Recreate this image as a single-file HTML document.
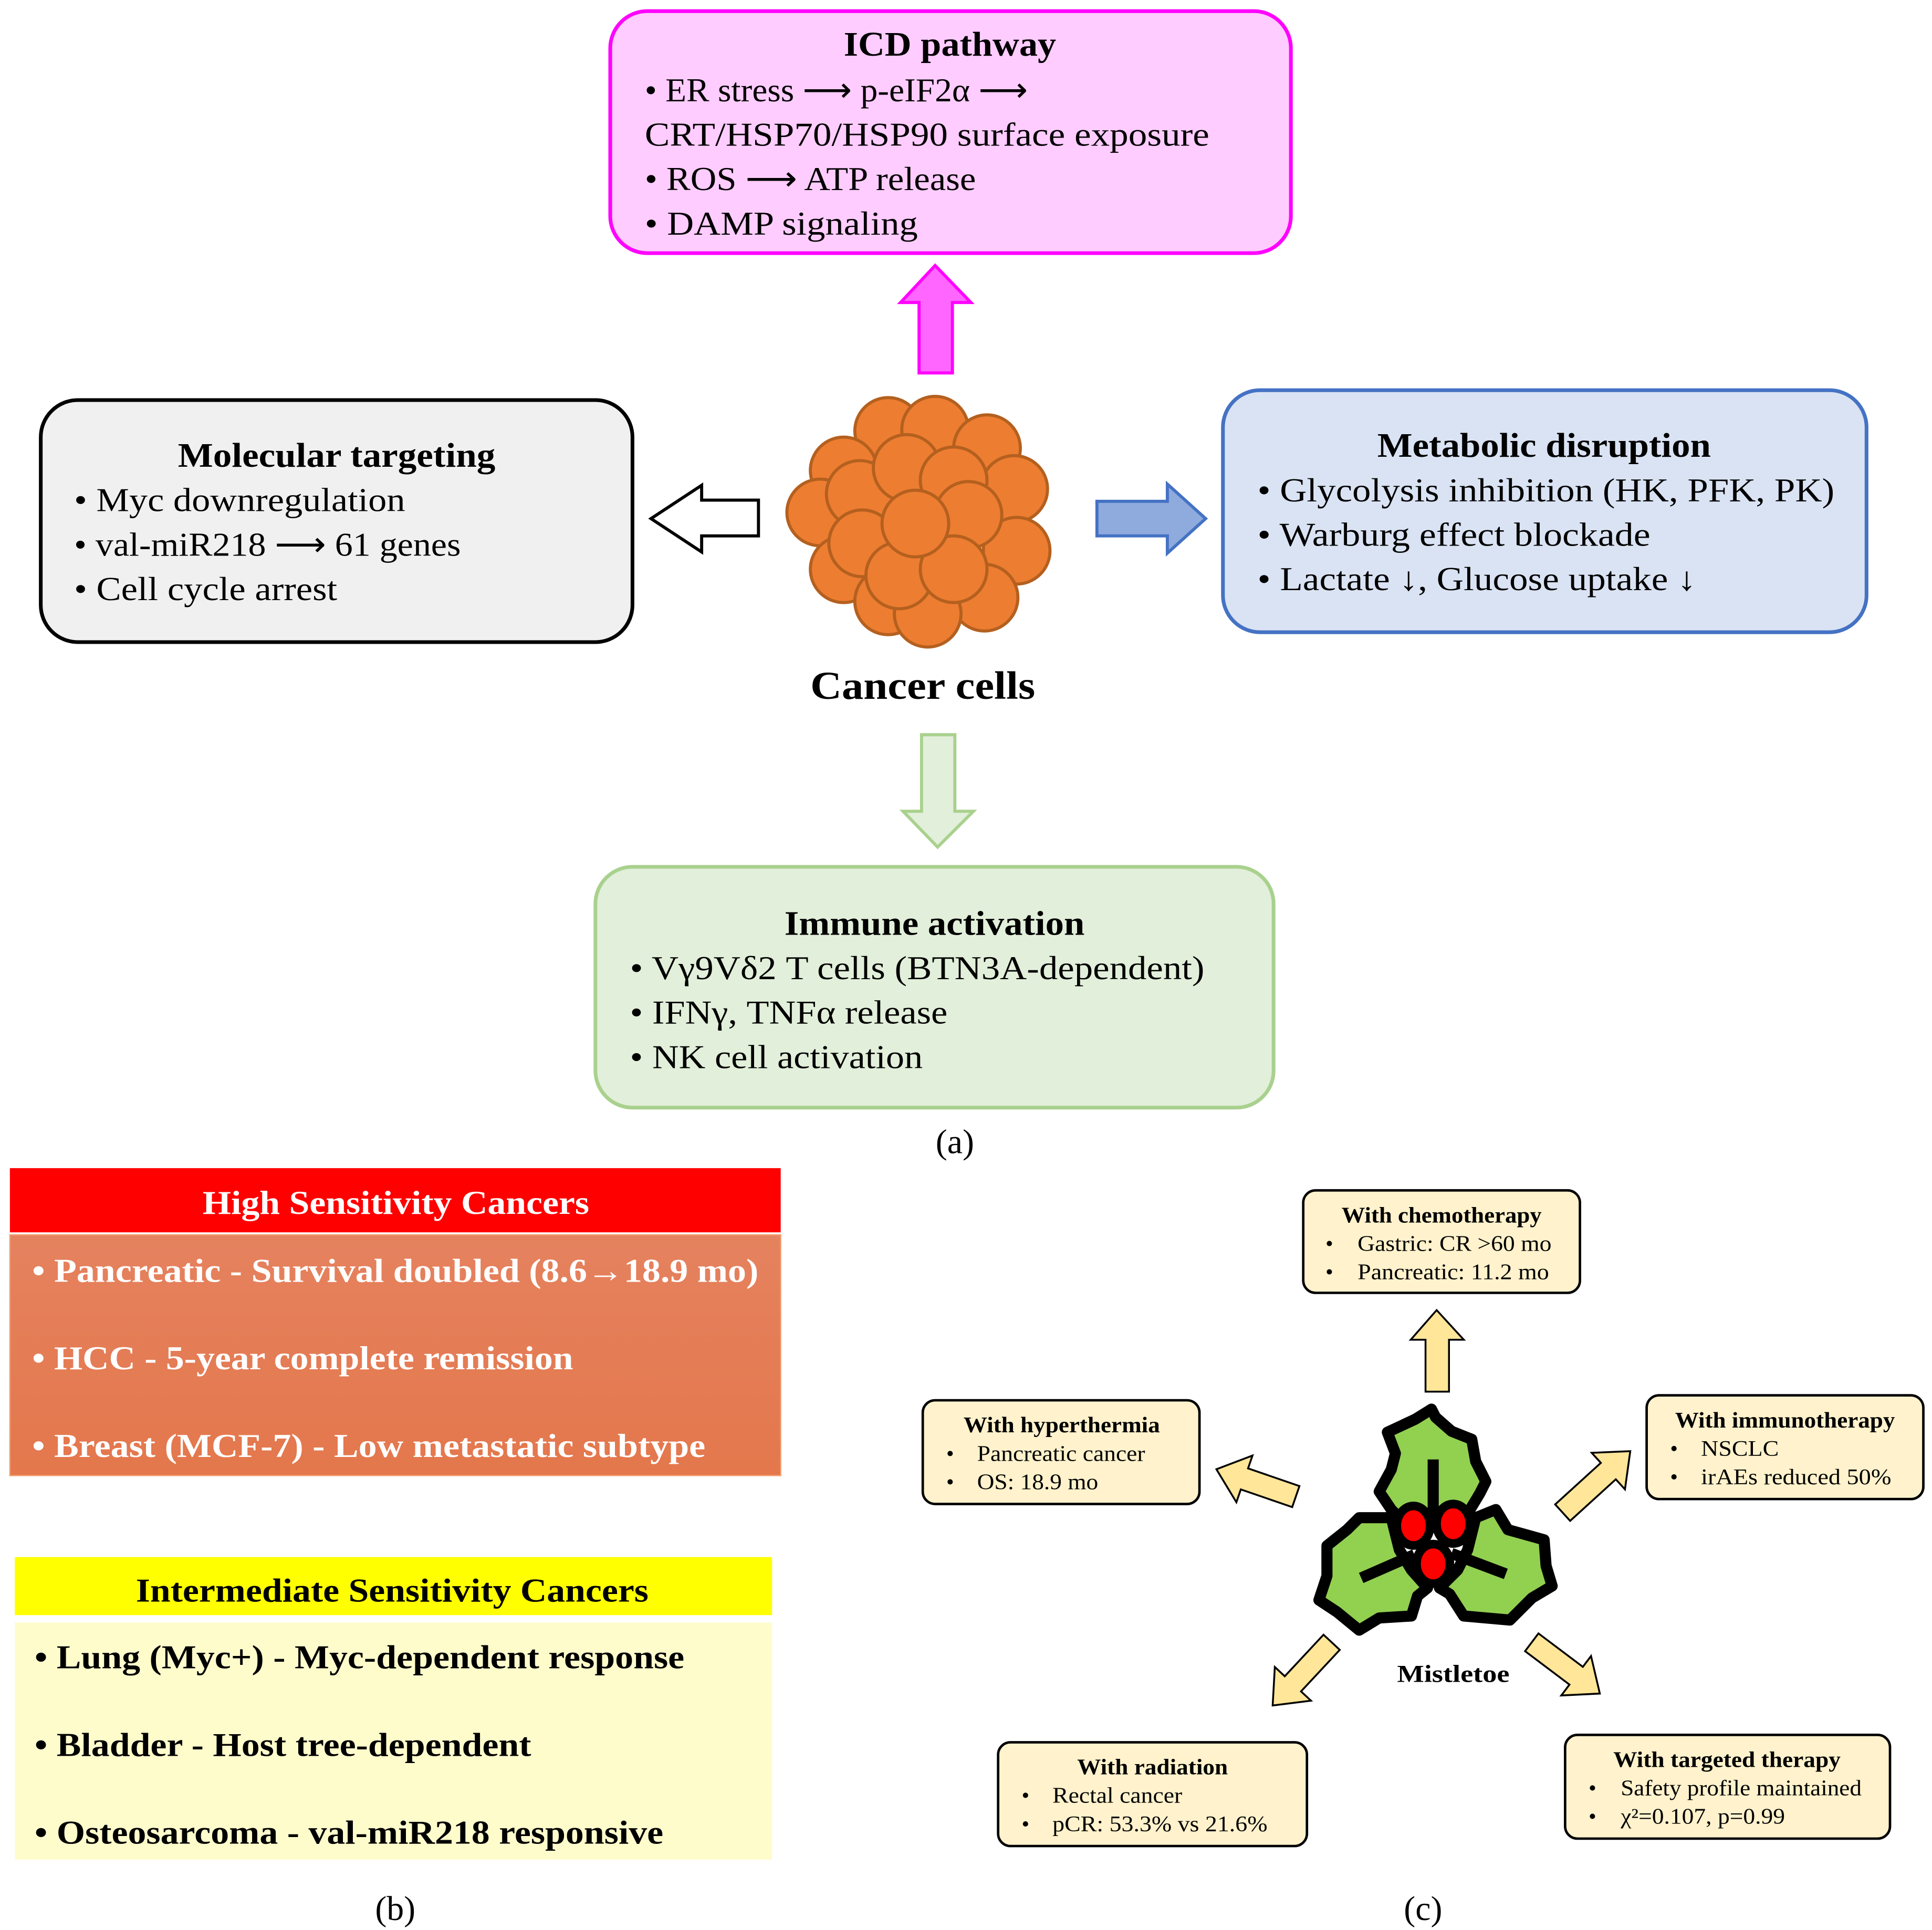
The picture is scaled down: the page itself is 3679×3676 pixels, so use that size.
<!DOCTYPE html>
<html><head><meta charset="utf-8"><style>
html,body{margin:0;padding:0;background:#fff;}
svg{display:block;}
text{font-family:"Liberation Serif",serif;}
</style></head><body>
<svg width="3679" height="3676" viewBox="0 0 1564 1563" preserveAspectRatio="none" xmlns="http://www.w3.org/2000/svg">
<defs>
<linearGradient id="og" x1="0" y1="0" x2="0" y2="1"><stop offset="0" stop-color="#e5825f"/><stop offset="1" stop-color="#e4774c"/></linearGradient>
</defs>
<g lengthAdjust="spacingAndGlyphs">
<!-- ICD box -->
<rect x="494" y="9" width="551" height="196" rx="30" fill="#ffccff" stroke="#ff00ff" stroke-width="3"/>
<text x="683" y="45" font-size="28" font-weight="bold" textLength="172" lengthAdjust="spacingAndGlyphs">ICD pathway</text>
<g font-size="27">
<text x="522" y="82" textLength="310" lengthAdjust="spacingAndGlyphs">• ER stress ⟶ p-eIF2α ⟶</text>
<text x="522" y="118" textLength="457" lengthAdjust="spacingAndGlyphs">CRT/HSP70/HSP90 surface exposure</text>
<text x="522" y="154" textLength="268" lengthAdjust="spacingAndGlyphs">• ROS ⟶ ATP release</text>
<text x="522" y="190" textLength="221" lengthAdjust="spacingAndGlyphs">• DAMP signaling</text>
</g>
<polygon points="744,302 771,302 771,245 786,245 757,215 729,245 744,245" fill="#ff66ff" stroke="#ff00ff" stroke-width="2.5"/>
<!-- Molecular -->
<rect x="33" y="324" width="479" height="196" rx="30" fill="#f0f0f0" stroke="#000" stroke-width="3"/>
<text x="144" y="378" font-size="28" font-weight="bold" textLength="257" lengthAdjust="spacingAndGlyphs">Molecular targeting</text>
<g font-size="27">
<text x="60" y="414" textLength="268" lengthAdjust="spacingAndGlyphs">• Myc downregulation</text>
<text x="60" y="450" textLength="313" lengthAdjust="spacingAndGlyphs">• val-miR218 ⟶ 61 genes</text>
<text x="60" y="486" textLength="213" lengthAdjust="spacingAndGlyphs">• Cell cycle arrest</text>
</g>
<polygon points="614,405 568,405 568,393 527,420 568,447 568,434 614,434" fill="#fff" stroke="#000" stroke-width="2.5"/>
<!-- Metabolic -->
<rect x="990" y="316" width="521" height="196" rx="30" fill="#dae3f3" stroke="#4472c4" stroke-width="3"/>
<text x="1115" y="370" font-size="28" font-weight="bold" textLength="270" lengthAdjust="spacingAndGlyphs">Metabolic disruption</text>
<g font-size="27">
<text x="1018" y="406" textLength="467" lengthAdjust="spacingAndGlyphs">• Glycolysis inhibition (HK, PFK, PK)</text>
<text x="1018" y="442" textLength="318" lengthAdjust="spacingAndGlyphs">• Warburg effect blockade</text>
<text x="1018" y="478" textLength="355" lengthAdjust="spacingAndGlyphs">• Lactate ↓, Glucose uptake ↓</text>
</g>
<polygon points="888,406 945,406 945,392 976,420 945,448 945,434 888,434" fill="#8faadc" stroke="#4472c4" stroke-width="2.5"/>
<!-- cells -->
<g fill="#ed7d31" stroke="#b4601f" stroke-width="2.5">
<circle cx="719" cy="349" r="27"/>
<circle cx="757" cy="348" r="27"/>
<circle cx="799" cy="363" r="27"/>
<circle cx="683" cy="381" r="27"/>
<circle cx="821" cy="396" r="27"/>
<circle cx="664" cy="415" r="27"/>
<circle cx="823" cy="446" r="27"/>
<circle cx="683" cy="461" r="27"/>
<circle cx="797" cy="484" r="27"/>
<circle cx="719" cy="487" r="27"/>
<circle cx="751" cy="497" r="27"/>
<circle cx="696" cy="400" r="27"/>
<circle cx="734" cy="379" r="27"/>
<circle cx="772" cy="389" r="27"/>
<circle cx="784" cy="417" r="27"/>
<circle cx="698" cy="440" r="27"/>
<circle cx="728" cy="466" r="27"/>
<circle cx="772" cy="461" r="27"/>
<circle cx="741" cy="424" r="27"/>
</g>
<text x="656" y="566" font-size="32" font-weight="bold" textLength="182" lengthAdjust="spacingAndGlyphs">Cancer cells</text>
<polygon points="746,595 773,595 773,657 788,657 759,686 731,657 746,657" fill="#e2efda" stroke="#a9d18e" stroke-width="2.5"/>
<!-- Immune -->
<rect x="482" y="702" width="549" height="195" rx="30" fill="#e2efda" stroke="#a9d18e" stroke-width="3"/>
<text x="635" y="757" font-size="28" font-weight="bold" textLength="243" lengthAdjust="spacingAndGlyphs">Immune activation</text>
<g font-size="27">
<text x="510" y="793" textLength="465" lengthAdjust="spacingAndGlyphs">• Vγ9Vδ2 T cells (BTN3A-dependent)</text>
<text x="510" y="829" textLength="257" lengthAdjust="spacingAndGlyphs">• IFNγ, TNFα release</text>
<text x="510" y="865" textLength="237" lengthAdjust="spacingAndGlyphs">• NK cell activation</text>
</g>
<text x="773" y="934" font-size="28" text-anchor="middle">(a)</text>
<!-- (b) -->
<rect x="8" y="946" width="624" height="52" fill="#ff0000"/>
<rect x="8" y="1000" width="624" height="195" fill="url(#og)" stroke="#f4a070" stroke-width="1"/>
<text x="164" y="983" font-size="27" font-weight="bold" fill="#fff" textLength="313" lengthAdjust="spacingAndGlyphs">High Sensitivity Cancers</text>
<g font-size="27" font-weight="bold" fill="#fff">
<text x="26" y="1038" textLength="588" lengthAdjust="spacingAndGlyphs">• Pancreatic - Survival doubled (8.6→18.9 mo)</text>
<text x="26" y="1109" textLength="438" lengthAdjust="spacingAndGlyphs">• HCC - 5-year complete remission</text>
<text x="26" y="1180" textLength="545" lengthAdjust="spacingAndGlyphs">• Breast (MCF-7) - Low metastatic subtype</text>
</g>
<rect x="12" y="1261" width="613" height="47" fill="#ffff00"/>
<rect x="12" y="1314" width="613" height="192" fill="#fffccc"/>
<text x="110" y="1297" font-size="27" font-weight="bold" textLength="415" lengthAdjust="spacingAndGlyphs">Intermediate Sensitivity Cancers</text>
<g font-size="27" font-weight="bold">
<text x="28" y="1351" textLength="526" lengthAdjust="spacingAndGlyphs">• Lung (Myc+) - Myc-dependent response</text>
<text x="28" y="1422" textLength="402" lengthAdjust="spacingAndGlyphs">• Bladder - Host tree-dependent</text>
<text x="28" y="1493" textLength="509" lengthAdjust="spacingAndGlyphs">• Osteosarcoma - val-miR218 responsive</text>
</g>
<text x="320" y="1555" font-size="28" text-anchor="middle">(b)</text>
<!-- (c) boxes -->
<g fill="#fff2cc" stroke="#000" stroke-width="2">
<rect x="1055" y="964" width="224" height="83" rx="10"/>
<rect x="747" y="1134" width="224" height="84" rx="10"/>
<rect x="1333" y="1130" width="224" height="84" rx="10"/>
<rect x="808" y="1411" width="250" height="84" rx="10"/>
<rect x="1267" y="1405" width="263" height="84" rx="10"/>
</g>
<g font-size="18">
<text x="1086" y="990" font-weight="bold" textLength="162" lengthAdjust="spacingAndGlyphs">With chemotherapy</text>
<text x="1073" y="1013">•</text><text x="1099" y="1013" textLength="157" lengthAdjust="spacingAndGlyphs">Gastric: CR &gt;60 mo</text>
<text x="1073" y="1036">•</text><text x="1099" y="1036" textLength="155" lengthAdjust="spacingAndGlyphs">Pancreatic: 11.2 mo</text>
<text x="780" y="1160" font-weight="bold" textLength="159" lengthAdjust="spacingAndGlyphs">With hyperthermia</text>
<text x="766" y="1183">•</text><text x="791" y="1183" textLength="136" lengthAdjust="spacingAndGlyphs">Pancreatic cancer</text>
<text x="766" y="1206">•</text><text x="791" y="1206" textLength="98" lengthAdjust="spacingAndGlyphs">OS: 18.9 mo</text>
<text x="1356" y="1156" font-weight="bold" textLength="178" lengthAdjust="spacingAndGlyphs">With immunotherapy</text>
<text x="1352" y="1179">•</text><text x="1377" y="1179" textLength="63" lengthAdjust="spacingAndGlyphs">NSCLC</text>
<text x="1352" y="1202">•</text><text x="1377" y="1202" textLength="154" lengthAdjust="spacingAndGlyphs">irAEs reduced 50%</text>
<text x="872" y="1437" font-weight="bold" textLength="122" lengthAdjust="spacingAndGlyphs">With radiation</text>
<text x="827" y="1460">•</text><text x="852" y="1460" textLength="105" lengthAdjust="spacingAndGlyphs">Rectal cancer</text>
<text x="827" y="1483">•</text><text x="852" y="1483" textLength="174" lengthAdjust="spacingAndGlyphs">pCR: 53.3% vs 21.6%</text>
<text x="1306" y="1431" font-weight="bold" textLength="184" lengthAdjust="spacingAndGlyphs">With targeted therapy</text>
<text x="1286" y="1454">•</text><text x="1312" y="1454" textLength="195" lengthAdjust="spacingAndGlyphs">Safety profile maintained</text>
<text x="1286" y="1477">•</text><text x="1312" y="1477" textLength="133" lengthAdjust="spacingAndGlyphs">χ²=0.107, p=0.99</text>
</g>
<!-- (c) arrows -->
<g fill="#ffe699" stroke="#000" stroke-width="1.5">
<polygon points="1154,1127 1173,1127 1173,1085 1185,1085 1163,1061 1142,1085 1154,1085"/>
<polygon transform="translate(1049,1212) rotate(199)" points="0,-9 44,-9 44,-20 68,0 44,20 44,9 0,9"/>
<polygon transform="translate(1265,1225) rotate(-42.3)" points="0,-9 50,-9 50,-20 74,0 50,20 50,9 0,9"/>
<polygon transform="translate(1078,1330) rotate(133)" points="0,-9 46,-9 46,-20 70,0 46,20 46,9 0,9"/>
<polygon transform="translate(1240,1330) rotate(37)" points="0,-9 45,-9 45,-20 69,0 45,20 45,9 0,9"/>
</g>
<!-- mistletoe -->
<g fill="#92d050" stroke="#000" stroke-width="9" stroke-linejoin="round">
<polygon points="1158.8,1141.2 1145.8,1149.3 1123.1,1159.9 1129.6,1177 1126.3,1190 1116.5,1207.9 1126.3,1222.5 1132.8,1229.1 1188.1,1225.8 1197.9,1209.5 1202.8,1199.8 1194.6,1183.5 1191.4,1165.6 1175.1,1159.1 1162.1,1147.7"/>
<polygon points="1126.3,1229.1 1100.3,1229.1 1090.5,1238.8 1074.2,1251.8 1074.2,1276.2 1067.7,1295.8 1082.4,1305.5 1100.3,1320.2 1116.5,1310.3 1142.6,1308.7 1147.5,1292.5 1155.6,1286 1142.6,1271.4 1132.8,1255.1"/>
<polygon points="1194.6,1229.1 1210.9,1222.5 1220.7,1238.8 1250,1247 1251.6,1268.1 1256.5,1284.4 1240.2,1294.1 1222.3,1312 1184.9,1308.7 1173.5,1290.9 1165.3,1286 1180,1271.4 1188.1,1255.1"/>
</g>
<g stroke="#000" stroke-width="9">
<line x1="1160.2" y1="1181.9" x2="1160.2" y2="1235"/>
<line x1="1101.9" y1="1277.9" x2="1145" y2="1259"/>
<line x1="1219" y1="1274.6" x2="1175" y2="1258"/>
</g>
<g fill="#ff0000" stroke="#000" stroke-width="7">
<ellipse cx="1144.2" cy="1235.6" rx="13.5" ry="16"/>
<ellipse cx="1176.4" cy="1234" rx="13.5" ry="16"/>
<ellipse cx="1160.2" cy="1266.5" rx="13.5" ry="16"/>
</g>
<text x="1131" y="1362" font-size="20" font-weight="bold" textLength="91" lengthAdjust="spacingAndGlyphs">Mistletoe</text>
<text x="1152" y="1555" font-size="28" text-anchor="middle">(c)</text>
</g>
</svg>
</body></html>
